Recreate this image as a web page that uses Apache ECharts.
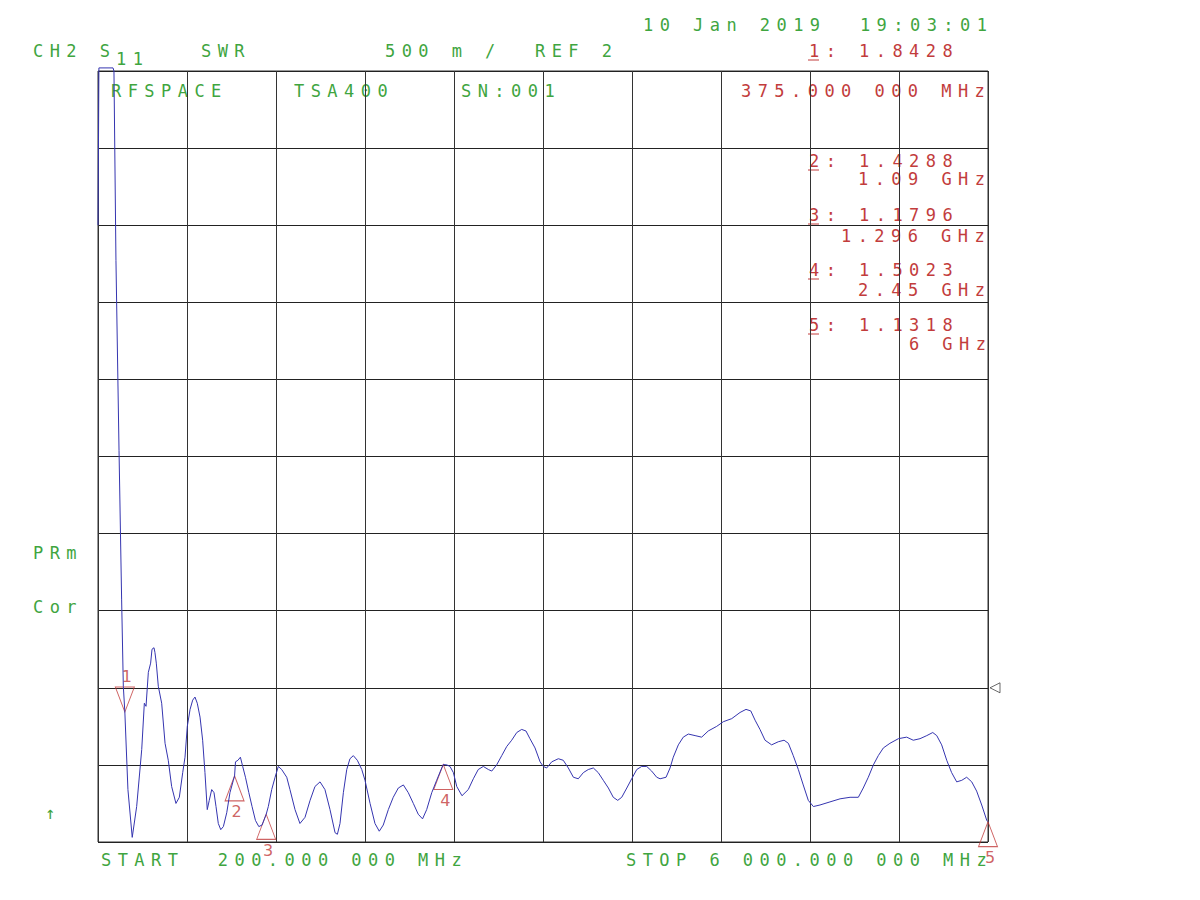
<!DOCTYPE html>
<html>
<head>
<meta charset="utf-8">
<title>S11 SWR</title>
<script src="https://cdn.jsdelivr.net/npm/echarts@6.0.0/dist/echarts.min.js"></script>
<style>
  html, body { margin: 0; padding: 0; background: #fff; }
  #chart { width: 1200px; height: 900px; }
  /* plotter style: wide fixed pitch for the mono texts */
  #chart text[style*="Mono"] { letter-spacing: 6.45px; }
</style>
</head>
<body>
<div id="chart"></div>
<script>
// trace: frequency (MHz) and SWR
const freqMHz = [
  200, 206, 298, 304, 317, 337, 354, 365, 375, 395, 423, 452, 485, 502, 513, 528, 543, 552, 565, 571,
  580, 593, 615, 637, 658, 680, 708, 730, 752, 767, 782, 800, 817, 832, 847, 865, 882, 897, 912, 925,
  941, 956, 969, 984, 1000, 1017, 1039, 1060, 1082, 1090, 1096, 1112, 1128, 1143, 1161, 1183, 1204, 1226, 1248, 1269,
  1296, 1310, 1332, 1354, 1375, 1397, 1430, 1451, 1484, 1516, 1549, 1582, 1614, 1647, 1679, 1712, 1745, 1760, 1777, 1799,
  1821, 1842, 1864, 1890, 1919, 1940, 1973, 2005, 2033, 2059, 2092, 2124, 2157, 2190, 2222, 2255, 2287, 2315, 2342, 2375,
  2407, 2440, 2450, 2473, 2494, 2516, 2538, 2572, 2613, 2646, 2678, 2711, 2744, 2766, 2798, 2831, 2864, 2896, 2929, 2961,
  2989, 3015, 3048, 3081, 3102, 3124, 3157, 3200, 3232, 3265, 3298, 3330, 3363, 3395, 3428, 3460, 3493, 3526, 3558, 3587,
  3613, 3646, 3678, 3711, 3743, 3776, 3808, 3841, 3863, 3902, 3928, 3949, 3982, 4014, 4047, 4091, 4134, 4177, 4232, 4275,
  4330, 4384, 4423, 4454, 4482, 4514, 4547, 4590, 4633, 4671, 4699, 4731, 4764, 4796, 4829, 4862, 4905, 4970, 5036, 5101,
  5155, 5187, 5220, 5253, 5285, 5318, 5361, 5416, 5470, 5513, 5557, 5601, 5640, 5666, 5698, 5731, 5763, 5796, 5829, 5861,
  5894, 5926, 5959, 5992, 6000
];
const swr = [
  5.00, 6.02, 6.02, 6.00, 4.77, 3.54, 2.57, 2.01, 1.8428, 1.34, 1.03, 1.23, 1.60, 1.90, 1.88, 2.10, 2.16, 2.25, 2.26, 2.23,
  2.16, 2.01, 1.90, 1.64, 1.53, 1.36, 1.25, 1.29, 1.45, 1.55, 1.75, 1.86, 1.92, 1.94, 1.90, 1.81, 1.66, 1.45, 1.21, 1.27,
  1.34, 1.32, 1.23, 1.12, 1.08, 1.10, 1.19, 1.32, 1.40, 1.4288, 1.52, 1.53, 1.55, 1.49, 1.42, 1.32, 1.23, 1.14, 1.10, 1.11,
  1.1796, 1.23, 1.34, 1.42, 1.49, 1.47, 1.42, 1.34, 1.21, 1.12, 1.16, 1.27, 1.36, 1.39, 1.34, 1.21, 1.06, 1.05, 1.12, 1.32,
  1.47, 1.54, 1.56, 1.53, 1.47, 1.40, 1.25, 1.12, 1.07, 1.11, 1.21, 1.29, 1.35, 1.37, 1.32, 1.25, 1.18, 1.15, 1.21, 1.32,
  1.40, 1.48, 1.5023, 1.50, 1.49, 1.45, 1.36, 1.30, 1.34, 1.41, 1.47, 1.49, 1.47, 1.46, 1.50, 1.56, 1.62, 1.66, 1.71, 1.73,
  1.72, 1.67, 1.61, 1.52, 1.49, 1.48, 1.52, 1.54, 1.53, 1.48, 1.42, 1.41, 1.45, 1.47, 1.48, 1.45, 1.40, 1.35, 1.29, 1.27,
  1.29, 1.35, 1.41, 1.47, 1.49, 1.49, 1.46, 1.42, 1.41, 1.42, 1.48, 1.55, 1.63, 1.68, 1.70, 1.69, 1.68, 1.72, 1.75, 1.78,
  1.80, 1.84, 1.86, 1.85, 1.79, 1.73, 1.66, 1.63, 1.65, 1.66, 1.64, 1.56, 1.47, 1.37, 1.27, 1.23, 1.24, 1.26, 1.28, 1.29,
  1.29, 1.35, 1.42, 1.50, 1.56, 1.61, 1.64, 1.67, 1.68, 1.66, 1.67, 1.69, 1.71, 1.69, 1.63, 1.53, 1.45, 1.39, 1.40, 1.42,
  1.39, 1.33, 1.24, 1.14, 1.1318
];

// markers
const markerFreqs = [375, 1090, 1296, 2450, 6000];
const markerValues = [1.8428, 1.4288, 1.1796, 1.5023, 1.1318];
const markerFreqLabels = ['375.000 000 MHz', '1.09 GHz', '1.296 GHz', '2.45 GHz', '6 GHz'];

// scale settings
const startMHz = 200;
const stopMHz = 6000;
const refValue = 2;
const perDiv = 0.5;
const swrMin = 1;
const swrMax = 6;

const green = '#3fa53f';
const red = '#c23c3c';
const blue = '#3535b0';
const monoFont = '17px "DejaVu Sans Mono"';

function txt(text, x, y, color) {
  return {
    type: 'text', x: x, y: y, silent: true,
    style: {
      text: text, fill: color, font: monoFont,
      align: 'left', verticalAlign: 'middle',
      textAlign: 'left', textVerticalAlign: 'middle'
    }
  };
}

function underline(x, y) {
  return {
    type: 'line', silent: true,
    shape: { x1: x, y1: y, x2: x + 11, y2: y },
    style: { stroke: red, lineWidth: 1 }
  };
}

const graphics = [
  txt('CH2 S', 33, 51, green),
  txt('11', 116, 59, green),
  txt('SWR', 201, 51, green),
  txt('500 m /', 385, 51, green),
  txt('REF ' + refValue, 535, 51, green),
  txt('10 Jan 2019  19:03:01', 643, 25, green),
  txt('RFSPACE', 111, 91, green),
  txt('TSA400', 294, 91, green),
  txt('SN:001', 461, 91, green),
  txt('PRm', 33, 553, green),
  txt('Cor', 33, 607, green),
  txt('↑', 45, 813, green),
  txt('START  200.000 000 MHz', 101, 860, green),
  txt('STOP 6 000.000 000 MHz', 626, 860, green)
];

// marker readout table at top right
const readoutY = [51, 161, 215, 270, 325];
const freqLinePos = [[741, 91], [858, 179], [841, 236], [858, 290], [909, 344]];
markerValues.forEach(function (v, i) {
  graphics.push(txt((i + 1) + ': ' + v.toFixed(4), 809, readoutY[i], red));
  graphics.push(underline(808, readoutY[i] + 9));
  graphics.push(txt(markerFreqLabels[i], freqLinePos[i][0], freqLinePos[i][1], red));
});

const trace = freqMHz.map(function (f, i) { return [f, swr[i]]; });

const markerItems = markerFreqs.map(function (f, i) {
  const down = i === 0;
  return {
    value: [f, markerValues[i]],
    symbolRotate: down ? 180 : 0,
    symbolOffset: [0, down ? -12.5 : 12.5]
  };
});

const markerLabels = markerFreqs.map(function (f, i) {
  return {
    value: [f, markerValues[i]],
    label: { offset: [2, i === 0 ? -36 : 36] }
  };
});

const chart = echarts.init(document.getElementById('chart'), null, { renderer: 'svg' });

const option = {
  animation: false,
  backgroundColor: '#fff',
  grid: {
    left: 98, right: 212, top: 71, bottom: 58,
    show: true, borderColor: '#333', borderWidth: 1
  },
  xAxis: [
    { type: 'value', min: startMHz, max: stopMHz, show: false },
    {
      // 10 divisions for the graticule
      type: 'value', min: 0, max: 10, interval: 1, position: 'bottom',
      axisLine: { show: false }, axisTick: { show: false }, axisLabel: { show: false },
      splitLine: { show: true, lineStyle: { color: '#333', width: 1 } }
    }
  ],
  yAxis: {
    type: 'value', min: swrMin, max: swrMax, interval: perDiv,
    axisLine: { show: false }, axisTick: { show: false }, axisLabel: { show: false },
    splitLine: { show: true, lineStyle: { color: '#222', width: 1 } }
  },
  graphic: graphics,
  series: [
    {
      type: 'line',
      xAxisIndex: 0,
      data: trace,
      showSymbol: false,
      clip: false,
      silent: true,
      lineStyle: { color: blue, width: 1 }
    },
    {
      type: 'scatter',
      xAxisIndex: 0,
      data: markerItems,
      symbol: 'triangle',
      symbolSize: [19, 25],
      clip: false,
      silent: true,
      itemStyle: { color: 'transparent', borderColor: red, borderWidth: 1 }
    },
    {
      type: 'scatter',
      xAxisIndex: 0,
      data: markerLabels,
      symbolSize: 0,
      clip: false,
      silent: true,
      label: {
        show: true,
        position: 'inside',
        formatter: function (p) { return String(p.dataIndex + 1); },
        color: red,
        fontFamily: 'DejaVu Sans',
        fontSize: 16
      }
    },
    {
      // reference position indicator
      type: 'scatter',
      xAxisIndex: 0,
      data: [[stopMHz, refValue]],
      symbol: 'triangle',
      symbolSize: [10, 10],
      symbolRotate: 90,
      symbolOffset: [7, 0],
      clip: false,
      silent: true,
      itemStyle: { color: 'transparent', borderColor: '#444', borderWidth: 1 }
    }
  ]
};

chart.setOption(option);
</script>
</body>
</html>
